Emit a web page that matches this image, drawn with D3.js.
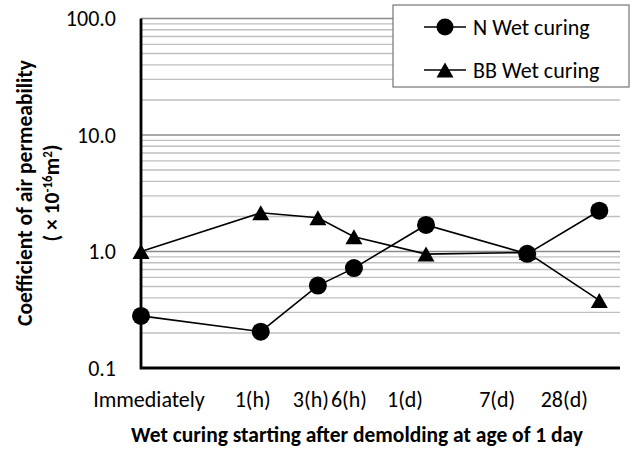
<!DOCTYPE html>
<html>
<head>
<meta charset="utf-8">
<script src="https://cdn.jsdelivr.net/npm/d3@7"></script>
<style>
  html, body { margin: 0; padding: 0; background: #fff; }
  svg { display: block; }
  text { font-family: Carlito, Lato, "Open Sans", sans-serif; fill: #000; }
</style>
</head>
<body>
<svg id="chart" width="637" height="453"></svg>
<script>
// Start of wet curing after demolding (hours; "Immediately" plotted at 0.1 h)
const categories = ["Immediately", "1(h)", "3(h)", "6(h)", "1(d)", "7(d)", "28(d)"];
const startHours = [0.1, 1, 3, 6, 24, 168, 672];

// Coefficient of air permeability (×10^-16 m²)
const nWetCuring  = [0.28, 0.205, 0.51, 0.72, 1.69, 0.955, 2.24];
const bbWetCuring = [1.0, 2.15, 1.95, 1.34, 0.95, 0.98, 0.38];

const seriesNames = ["N Wet curing", "BB Wet curing"];
const yTickValues = [0.1, 1, 10, 100];
const yTickLabels = ["0.1", "1.0", "10.0", "100.0"];

const svg = d3.select("#chart");

const plot = { left: 141, right: 620, top: 18.5, bottom: 368 };
const labelSize = 22;
const titleSize = 21.5;

const x = d3.scaleLog().domain([0.1, 1000]).range([plot.left, plot.right]);
const y = d3.scaleLog().domain([0.1, 100]).range([plot.bottom, plot.top]);

// Horizontal gridlines: minor at 2..9 of each decade, major at each decade
const minorVals = [];
for (let d = 0.1; d < 100; d *= 10) {
  for (let k = 2; k <= 9; k++) minorVals.push(+(d * k).toPrecision(3));
}
const majorVals = yTickValues.filter(v => v > 0.1);

const grid = svg.append("g");
grid.selectAll("line.minor").data(minorVals).join("line")
  .attr("class", "minor")
  .attr("x1", plot.left).attr("x2", plot.right)
  .attr("y1", d => y(d)).attr("y2", d => y(d))
  .attr("stroke", "#bfbfbf").attr("stroke-width", 1.4);
grid.selectAll("line.major").data(majorVals).join("line")
  .attr("class", "major")
  .attr("x1", plot.left).attr("x2", plot.right)
  .attr("y1", d => y(d)).attr("y2", d => y(d))
  .attr("stroke", "#8c8c8c").attr("stroke-width", 1.4);

// Y axis with decade ticks
const yAxis = d3.axisLeft(y).tickValues(yTickValues)
  .tickFormat((d, i) => yTickLabels[i]).tickSize(0).tickPadding(25);
const yg = svg.append("g").attr("transform", `translate(${plot.left},0)`).call(yAxis);
yg.select(".domain").remove();
yg.selectAll("text").attr("font-size", labelSize).attr("font-family", "Carlito, Lato, sans-serif");

// Axis frame (left and bottom)
svg.append("path")
  .attr("d", `M${plot.left},${plot.top}V${plot.bottom}H${plot.right}`)
  .attr("fill", "none").attr("stroke", "#000").attr("stroke-width", 2.8);

// X category labels (typed as one row under the axis)
const labelNudge = [8, -8, -7, -5, -21, -30, -35];
svg.append("g").selectAll("text").data(categories).join("text")
  .attr("x", (d, i) => x(startHours[i]) + labelNudge[i])
  .attr("y", 407)
  .attr("text-anchor", "middle")
  .attr("font-size", labelSize)
  .text(d => d);

// Series lines and markers
const line = d3.line().x(d => x(d[0])).y(d => y(d[1]));
const nPts = startHours.map((h, i) => [h, nWetCuring[i]]);
const bbPts = startHours.map((h, i) => [h, bbWetCuring[i]]);

// Triangle marker centred on its bounding box
const triW = 17, triH = 15;
const triangle = `M0,${-triH / 2}L${triW / 2},${triH / 2}L${-triW / 2},${triH / 2}Z`;

svg.append("path").datum(bbPts).attr("d", line)
  .attr("fill", "none").attr("stroke", "#000").attr("stroke-width", 1.6);
svg.append("path").datum(nPts).attr("d", line)
  .attr("fill", "none").attr("stroke", "#000").attr("stroke-width", 1.6);

svg.append("g").selectAll("path").data(bbPts).join("path")
  .attr("transform", d => `translate(${x(d[0])},${y(d[1])})`)
  .attr("d", triangle).attr("fill", "#000");
svg.append("g").selectAll("circle").data(nPts).join("circle")
  .attr("cx", d => x(d[0])).attr("cy", d => y(d[1]))
  .attr("r", 9).attr("fill", "#000");

// Legend
const lg = svg.append("g");
lg.append("rect").attr("x", 393).attr("y", 5).attr("width", 236).attr("height", 82)
  .attr("fill", "#fff").attr("stroke", "#7f7f7f").attr("stroke-width", 1.3);
seriesNames.forEach((name, i) => {
  const cy = 27 + i * 43;
  lg.append("line").attr("x1", 424).attr("x2", 466).attr("y1", cy).attr("y2", cy)
    .attr("stroke", "#000").attr("stroke-width", 1.6);
  if (i === 0) {
    lg.append("circle").attr("cx", 445).attr("cy", cy).attr("r", 8.5).attr("fill", "#000");
  } else {
    lg.append("path").attr("transform", `translate(445,${cy})`).attr("d", triangle).attr("fill", "#000");
  }
  lg.append("text").attr("x", 473).attr("y", cy).attr("dy", "0.36em")
    .attr("font-size", labelSize).text(name);
});

// Axis titles
svg.append("text")
  .attr("x", 357).attr("y", 442)
  .attr("text-anchor", "middle").attr("font-weight", "bold").attr("font-size", titleSize)
  .text("Wet curing starting after demolding at age of 1 day");

const yt = svg.append("g").attr("transform", "translate(0,193) rotate(-90)");
yt.append("text").attr("x", 0).attr("y", 32)
  .attr("text-anchor", "middle").attr("font-weight", "bold").attr("font-size", titleSize)
  .text("Coefficient of air permeability");
const yt2 = yt.append("text").attr("x", 0).attr("y", 59)
  .attr("text-anchor", "middle").attr("font-weight", "bold").attr("font-size", titleSize);
yt2.append("tspan").text("( × 10");
yt2.append("tspan").attr("dy", -7).attr("font-size", 13).text("-16");
yt2.append("tspan").attr("dy", 7).text("m");
yt2.append("tspan").attr("dy", -7).attr("font-size", 13).text("2");
yt2.append("tspan").attr("dy", 7).text(")");
</script>
</body>
</html>
